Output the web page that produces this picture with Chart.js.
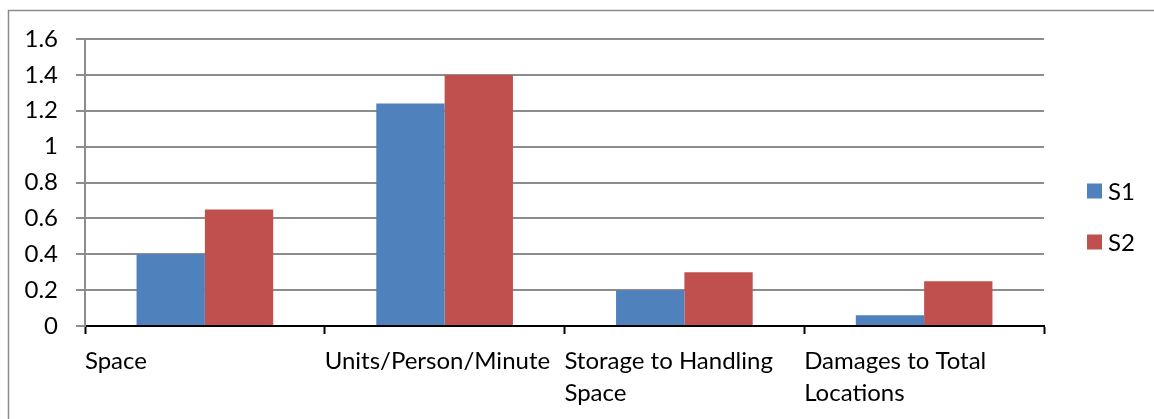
<!DOCTYPE html>
<html>
<head>
<meta charset="utf-8">
<script src="https://cdn.jsdelivr.net/npm/chart.js@4/dist/chart.umd.min.js"></script>
<style>
  html, body { margin: 0; padding: 0; background: #fff; }
  #wrap { width: 1154px; height: 419px; position: relative; }
</style>
</head>
<body>
<div id="wrap"><canvas id="c" width="1154" height="419"></canvas></div>
<script>
// Category labels (multi-line where the label wraps)
const categories = [
  ['Space'],
  ['Units/Person/Minute'],
  ['Storage to Handling', 'Space'],
  ['Damages to Total', 'Locations']
];
const seriesNames = ['S1', 'S2'];
const s1Values = [0.4, 1.24, 0.2, 0.06];
const s2Values = [0.65, 1.4, 0.3, 0.25];
const yTicks = [0, 0.2, 0.4, 0.6, 0.8, 1, 1.2, 1.4, 1.6];
const yTickLabels = ['0', '0.2', '0.4', '0.6', '0.8', '1', '1.2', '1.4', '1.6'];

const FONT = 'Lato, "Open Sans", sans-serif';
const FONT_SIZE = 24;
const GRID = '#8c8c8c';

// White background plus the thin frame around the chart (open to the right and bottom)
const framePlugin = {
  id: 'frame',
  beforeDraw(chart) {
    const ctx = chart.ctx;
    ctx.save();
    ctx.fillStyle = '#fff';
    ctx.fillRect(0, 0, chart.width, chart.height);
    ctx.strokeStyle = '#8c8c8c';
    ctx.lineWidth = 1.5;
    ctx.strokeRect(8.5, 10.5, chart.width + 20, chart.height + 20);
    ctx.restore();
  }
};

// Legend on the right, built from the datasets
const sideLegend = {
  id: 'sideLegend',
  afterDraw(chart) {
    const ctx = chart.ctx;
    const area = chart.chartArea;
    const x0 = area.right + 43;
    const cy = 216.5;
    const step = 51;
    const n = chart.data.datasets.length;
    ctx.save();
    ctx.font = FONT_SIZE + 'px ' + FONT;
    ctx.textBaseline = 'middle';
    ctx.textAlign = 'left';
    chart.data.datasets.forEach((ds, i) => {
      const y = cy + (i - (n - 1) / 2) * step;
      ctx.fillStyle = ds.backgroundColor;
      ctx.fillRect(x0, y - 7.5, 15, 15);
      ctx.fillStyle = '#000';
      ctx.fillText(ds.label, x0 + 21, y + 1);
    });
    ctx.restore();
  }
};

new Chart(document.getElementById('c'), {
  type: 'bar',
  data: {
    labels: categories,
    datasets: [
      { label: seriesNames[0], data: s1Values, backgroundColor: '#4F81BD',
        categoryPercentage: 0.57, barPercentage: 1 },
      { label: seriesNames[1], data: s2Values, backgroundColor: '#C0504D',
        categoryPercentage: 0.57, barPercentage: 1 }
    ]
  },
  options: {
    responsive: false,
    animation: false,
    devicePixelRatio: 1,
    layout: { padding: { left: 10, right: 110, top: 39, bottom: 0 } },
    plugins: {
      legend: { display: false },
      tooltip: { enabled: false }
    },
    scales: {
      x: {
        z: 1,
        offset: true,
        afterFit(s) { s.height = 93; },
        grid: {
          offset: true,
          drawOnChartArea: false,
          drawTicks: true,
          tickLength: 8,
          tickColor: '#000',
          tickWidth: 2
        },
        border: { display: true, color: '#000', width: 2 },
        ticks: {
          autoSkip: false,
          maxRotation: 0,
          minRotation: 0,
          align: 'start',
          labelOffset: -120,
          padding: 11.5,
          color: '#000',
          font: { family: FONT, size: FONT_SIZE, lineHeight: '32px' }
        }
      },
      y: {
        min: yTicks[0],
        max: yTicks[yTicks.length - 1],
        afterFit(s) { s.width = 75; },
        afterBuildTicks(s) { s.ticks = yTicks.map(v => ({ value: v })); },
        grid: {
          color: GRID,
          lineWidth: 2,
          drawTicks: true,
          tickLength: 9,
          tickColor: GRID
        },
        border: { display: true, color: GRID, width: 2 },
        ticks: {
          padding: 18,
          color: '#000',
          font: { family: FONT, size: FONT_SIZE },
          callback: (v, i) => yTickLabels[i]
        }
      }
    }
  },
  plugins: [framePlugin, sideLegend]
});
</script>
</body>
</html>
